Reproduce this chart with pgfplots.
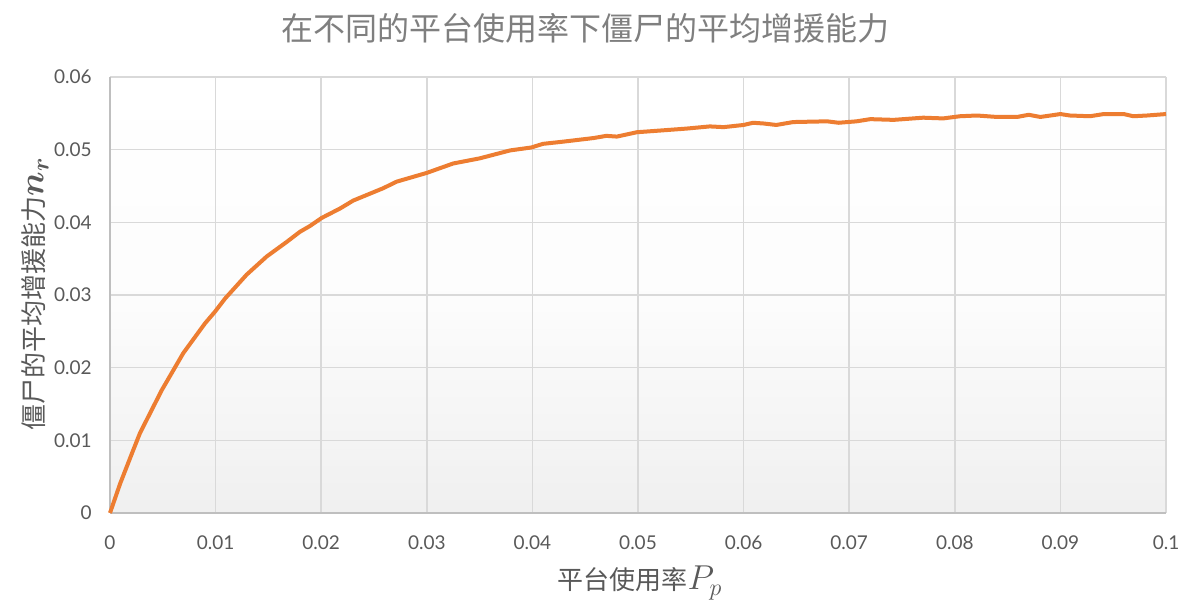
\documentclass[border=0pt]{standalone}
\usepackage{fontspec}
\usepackage{bm}
\usepackage{pgfplots}
\pgfplotsset{compat=1.18}
\setmainfont{Lato}
\newfontfamily\cjk{Noto Sans CJK SC}
\definecolor{lineorange}{HTML}{ED7D31}
\definecolor{titlegray}{HTML}{7F7F7F}
\definecolor{labelgray}{HTML}{595959}
\definecolor{gridgray}{HTML}{D9D9D9}
\definecolor{axisgray}{HTML}{BFBFBF}
\begin{document}
\begin{tikzpicture}
\useasboundingbox (-55pt,-50.5pt) rectangle (541pt,256.5pt);
\begin{axis}[
    at={(0,0)}, anchor=south west,
    scale only axis,
    width=528pt, height=218pt,
    xmin=0, xmax=0.1, ymin=0, ymax=0.06,
    xtick={0,0.01,0.02,0.03,0.04,0.05,0.06,0.07,0.08,0.09,0.1},
    ytick={0,0.01,0.02,0.03,0.04,0.05,0.06},
    scaled ticks=false,
    /pgf/number format/fixed,
    /pgf/number format/precision=2,
    /pgf/number format/assume math mode=true,
    tick label style={font=\fontsize{9.5}{9.5}\selectfont, text=labelgray},
    yticklabel style={anchor=east, inner sep=0pt, xshift=-9pt},
    xticklabel style={anchor=north, inner sep=0pt, yshift=-11pt},
    major tick length=0pt,
    tick style={draw=none},
    grid=major,
    grid style={gridgray, line width=0.75pt},
    axis x line*=bottom, axis y line*=left,
    axis line style={axisgray, line width=0.75pt, -},
    axis background/.style={shade, top color=white, bottom color=white!94!black, middle color=white!99!black},
    clip=false,
]
\addplot[lineorange, line width=2pt, line join=round] coordinates {
(0,0) (0.00095,0.0040) (0.00205,0.0081) (0.00284,0.0110) (0.0049,0.0169)
(0.00694,0.0220) (0.009,0.0261) (0.00994,0.0277) (0.01089,0.0295)
(0.01294,0.0328) (0.01484,0.0353) (0.01673,0.0373) (0.01799,0.0387)
(0.01894,0.0395) (0.02004,0.0406) (0.02178,0.0419) (0.02304,0.0430)
(0.02588,0.0447) (0.02715,0.0456) (0.02999,0.0468) (0.0325,0.0481)
(0.0350,0.0488) (0.0379,0.0499) (0.0399,0.0503) (0.0410,0.0508)
(0.0429,0.0511) (0.0458,0.0516) (0.0470,0.0519) (0.0480,0.0518)
(0.0499,0.0524) (0.0518,0.0526) (0.0546,0.0529) (0.0568,0.0532)
(0.0581,0.0531) (0.0600,0.0534) (0.0609,0.0537) (0.0619,0.0536)
(0.0631,0.0534) (0.0647,0.0538) (0.0679,0.0539) (0.0690,0.0537)
(0.0707,0.0539) (0.0720,0.0542) (0.0742,0.0541) (0.0770,0.0544)
(0.0789,0.0543) (0.0805,0.0546) (0.0821,0.0547) (0.0840,0.0545)
(0.0859,0.0545) (0.0870,0.0548) (0.0881,0.0545) (0.0900,0.0549)
(0.0909,0.0547) (0.0928,0.0546) (0.0941,0.0549) (0.0960,0.0549)
(0.0969,0.0546) (0.0982,0.0547) (0.1000,0.0549)
};
\end{axis}
\node[text=titlegray] at (237.5pt,242.5pt) {\cjk\fontsize{16}{16}\selectfont 在不同的平台使用率下僵尸的平均增援能力};
\node[text=labelgray] at (265pt,-35pt) {\cjk\fontsize{13}{13}\selectfont 平台使用率{\fontsize{17}{17}\selectfont$P_p$}};
\node[text=labelgray, rotate=90] at (-37.5pt,109.5pt) {\cjk\fontsize{13}{13}\selectfont 僵尸的平均增援能力{\fontsize{17}{17}\selectfont$\bm{n_r}$}};
\end{tikzpicture}
\end{document}
